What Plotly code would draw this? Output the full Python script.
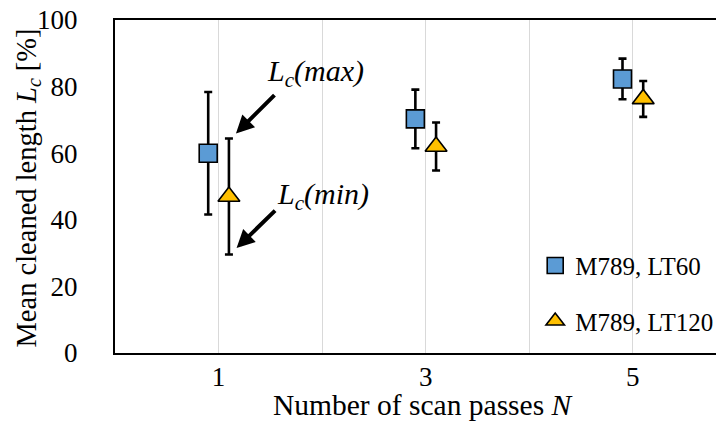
import plotly.graph_objects as go

# Data
passes = [1, 3, 5]
lt60_mean = [60.0, 70.3, 82.3]
lt60_err = [18.4, 8.8, 6.1]
lt120_mean = [47.0, 62.0, 76.3]
lt120_err = [17.4, 7.2, 5.4]
series_names = ["M789, LT60", "M789, LT120"]
x_tickvals = [0, 1, 2, 3, 4, 5]
x_ticktext = ["", "1", "", "3", "", "5"]
y_tickvals = [0, 20, 40, 60, 80, 100]
x_title = "Number of scan passes <i>N</i>"
y_title = "Mean cleaned length <i>L<sub>c</sub></i> [%]"

offset = 0.1
FONT = "Liberation Serif, Times New Roman, serif"

fig = go.Figure()
fig.add_trace(go.Scatter(
    x=[p - offset for p in passes], y=lt60_mean, mode="markers",
    name=series_names[0], legendgroup="a",
    marker=dict(symbol="square", size=18, color="#5B9BD5",
                line=dict(color="black", width=1.6)),
    error_y=dict(type="data", array=lt60_err, color="black", thickness=2.6, width=4),
))
fig.add_trace(go.Scatter(
    x=[p + offset for p in passes], y=lt120_mean, mode="markers",
    name=series_names[1], legendgroup="b",
    marker=dict(symbol="triangle-up", size=19, color="#FFC000",
                line=dict(color="black", width=1.6)),
    error_y=dict(type="data", array=lt120_err, color="black", thickness=2.6, width=4),
))

ann_font = dict(family=FONT, size=30, color="black")
fig.add_annotation(x=1.168, y=65.9, ax=40, ay=-40, showarrow=True,
                   arrowhead=2, arrowsize=0.9, arrowwidth=4, arrowcolor="black", text="")
fig.add_annotation(x=1.174, y=31.5, ax=40, ay=-39, showarrow=True,
                   arrowhead=2, arrowsize=0.9, arrowwidth=4, arrowcolor="black", text="")
fig.add_annotation(x=1.94, y=84.2, showarrow=False, font=ann_font,
                   text="<i>L<sub>c</sub>(max)</i>")
fig.add_annotation(x=2.01, y=47.1, showarrow=False, font=ann_font,
                   text="<i>L<sub>c</sub>(min)</i>")

# axis titles (placed as annotations for exact positioning)
fig.add_annotation(xref="paper", yref="paper", x=0.5066, y=0, yshift=-52,
                   xanchor="center", yanchor="middle", showarrow=False,
                   font=dict(family=FONT, size=29.5, color="black"), text=x_title)
fig.add_annotation(xref="paper", yref="paper", x=0, y=0.5, xshift=-87, yshift=-2,
                   xanchor="center", yanchor="middle", showarrow=False,
                   textangle=-90, font=dict(family=FONT, size=28.5, color="black"),
                   text=y_title)

# page body has an 8px default margin, so the figure is 8px smaller each way
fig.update_layout(
    width=716, height=416,
    margin=dict(l=107, r=0, t=12, b=71),
    paper_bgcolor="white", plot_bgcolor="white",
    font=dict(family=FONT, size=27, color="black"),
    showlegend=True,
    legend=dict(x=0.69, y=0.331, xanchor="left", yanchor="top",
                bgcolor="rgba(0,0,0,0)", font=dict(family=FONT, size=25),
                traceorder="grouped", tracegroupgap=20),
    xaxis=dict(range=[0, 5.88], tickvals=x_tickvals, ticktext=x_ticktext,
               showgrid=True, gridcolor="#d9d9d9", gridwidth=1,
               showline=True, linecolor="black", linewidth=2, mirror=True,
               ticks="", ticklen=0, ticklabelstandoff=-1,
               ticklabeloverflow="allow",
               zeroline=False, automargin=False),
    yaxis=dict(range=[0, 100], tickvals=y_tickvals,
               showgrid=False, showline=True, linecolor="black", linewidth=2,
               ticks="", ticklen=0, ticklabelstandoff=30,
               ticklabeloverflow="allow",
               zeroline=False, automargin=False),
)

fig.write_html("out.html")
